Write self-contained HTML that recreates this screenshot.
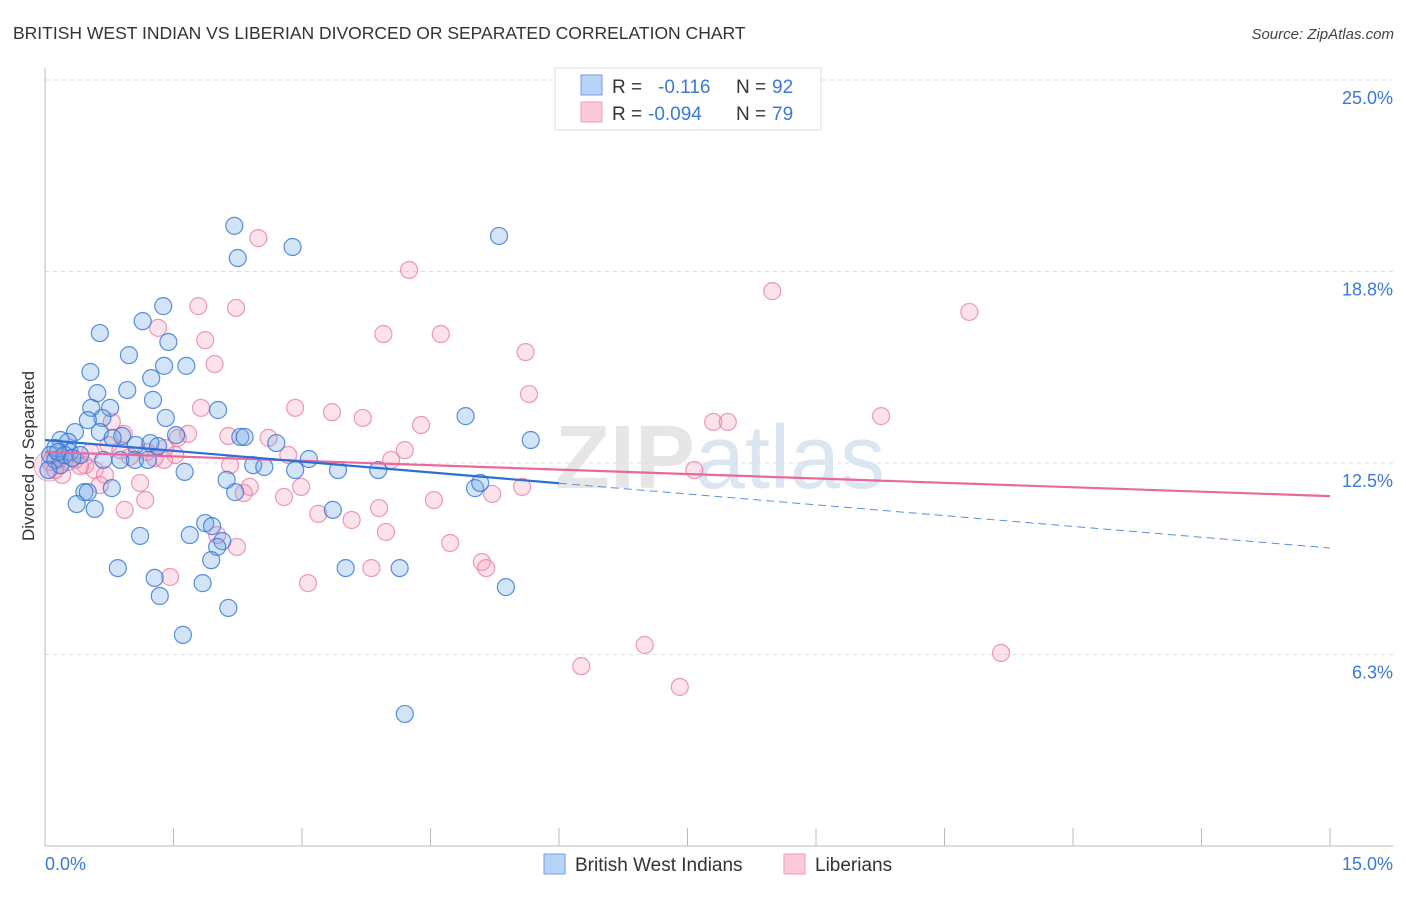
<!DOCTYPE html>
<html><head><meta charset="utf-8"><style>
body{margin:0;background:#fff;font-family:"Liberation Sans",sans-serif;}
svg text{font-family:"Liberation Sans",sans-serif;}
</style></head><body>
<svg id="chart" width="1406" height="892" viewBox="0 0 1406 892" xmlns="http://www.w3.org/2000/svg">
<text x="13" y="39" font-size="17.5" fill="#333">BRITISH WEST INDIAN VS LIBERIAN DIVORCED OR SEPARATED CORRELATION CHART</text>
<text x="1394" y="39" font-size="15" fill="#444" text-anchor="end" font-style="italic">Source: ZipAtlas.com</text>
<text x="720" y="488" font-size="90" fill="#e6e6e6" text-anchor="middle" font-family="Liberation Serif" font-weight="bold">ZIP<tspan fill="#dce6f3" font-family="Liberation Sans" font-weight="normal">atlas</tspan></text>
<g id="grid"></g>
<g id="axes"></g>
<g id="pts"></g>
<g id="trends"></g>
<text transform="translate(34,456) rotate(-90)" font-size="17" fill="#333" text-anchor="middle">Divorced or Separated</text>
<g>
<rect x="555" y="68" width="266" height="62" fill="#fff" stroke="#ddd"/>
<rect x="581" y="75" width="21" height="20" fill="#b8d3f5" stroke="#6ea0e6"/>
<rect x="581" y="102" width="21" height="20" fill="#fcc9da" stroke="#f09ab8"/>
<text x="612" y="93" font-size="19" fill="#333">R =</text>
<text x="658" y="93" font-size="19" fill="#3b78d8">-0.116</text>
<text x="736" y="93" font-size="19" fill="#333">N =</text>
<text x="772" y="93" font-size="19" fill="#3b78d8">92</text>
<text x="612" y="120" font-size="19" fill="#333">R =</text>
<text x="648" y="120" font-size="19" fill="#3b78d8">-0.094</text>
<text x="736" y="120" font-size="19" fill="#333">N =</text>
<text x="772" y="120" font-size="19" fill="#3b78d8">79</text>
</g>
<g>
<rect x="544" y="854" width="21" height="20" fill="#b8d3f5" stroke="#6ea0e6"/>
<text x="575" y="871" font-size="19" fill="#333">British West Indians</text>
<rect x="784" y="854" width="21" height="20" fill="#fcc9da" stroke="#f09ab8"/>
<text x="815" y="871" font-size="19" fill="#333">Liberians</text>
</g>
</svg>
<script>
const yTicks=[25.0,18.8,12.5,6.3];
const yTickVals=[25,18.75,12.5,6.25];
const xTickLabels=["0.0%","15.0%"];
const blueX=[2.21,2.89,5.30,2.25,1.38,1.14,0.64,1.44,0.98,1.39,1.65,0.53,1.24,0.96,0.61,1.26,0.76,0.54,2.02,1.41,4.91,0.67,0.50,5.67,0.35,0.64,0.90,0.79,1.06,1.53,0.18,0.27,0.12,0.29,0.41,1.23,1.32,2.28,2.33,2.70,3.08,1.63,2.12,2.43,2.56,2.92,3.42,3.89,5.02,5.08,0.68,0.88,1.05,1.20,2.22,0.78,0.46,0.50,0.37,0.58,3.36,1.87,1.95,1.69,1.11,2.07,2.01,1.94,0.85,1.28,3.51,4.14,1.84,5.38,1.34,2.14,1.61,4.20,0.06,0.12,0.18,0.23,0.04,0.15,0.32];
const blueY=[20.24,19.55,19.91,19.19,17.62,17.13,16.74,16.45,16.02,15.67,15.67,15.47,15.27,14.88,14.78,14.56,14.30,14.30,14.23,13.97,14.03,13.97,13.90,13.25,13.51,13.51,13.38,13.32,13.09,13.41,13.25,13.19,12.99,12.86,12.76,13.15,13.05,13.35,13.35,13.15,12.63,12.21,11.95,12.43,12.37,12.27,12.27,12.27,11.68,11.85,12.60,12.60,12.60,12.60,11.55,11.68,11.55,11.55,11.16,11.00,10.97,10.54,10.44,10.15,10.12,9.95,9.76,9.33,9.07,8.75,9.07,9.07,8.58,8.45,8.16,7.77,6.89,4.31,12.76,12.60,12.43,12.76,12.27,12.86,12.66];
const pinkX=[2.49,4.25,8.49,10.79,1.79,2.23,3.95,4.62,1.32,1.87,5.61,1.98,5.65,9.76,2.92,3.35,1.82,3.71,4.39,7.80,7.97,2.14,2.61,1.67,0.78,0.92,1.55,4.20,4.04,2.84,1.52,1.39,0.99,1.19,7.58,0.47,0.58,0.70,1.11,0.64,2.99,2.39,2.32,2.79,5.22,5.57,4.54,3.90,3.19,3.58,0.93,1.17,3.98,2.01,2.24,4.73,5.10,5.15,3.07,1.46,3.81,6.26,7.00,7.41,11.16,0.06,0.12,0.18,0.27,0.35,0.41,0.20,0.53,0.74,0.88,1.28,1.40,2.16];
const pinkY=[19.84,18.80,18.11,17.43,17.62,17.56,16.71,16.71,16.91,16.51,16.12,15.73,14.75,14.03,14.30,14.16,14.30,13.97,13.74,13.84,13.84,13.38,13.32,13.45,13.84,13.45,13.32,12.92,12.60,12.76,12.76,12.60,12.70,12.86,12.27,12.43,12.27,12.11,11.85,11.78,11.72,11.72,11.52,11.39,11.49,11.72,11.29,11.03,10.84,10.64,10.97,11.29,10.25,10.15,9.76,9.89,9.27,9.07,8.58,8.78,9.07,5.87,6.56,5.19,6.30,12.53,12.27,12.66,12.53,12.60,12.40,12.11,12.86,13.09,12.92,12.66,12.99,12.43];
const blueTrend=[13.25,-0.235];
const pinkTrend=[12.86,-0.096];
const blueSolidEnd=6.0;

const NS="http://www.w3.org/2000/svg";
const X0=45,X1=1330,Y0=846,Y1=80;
const sx=v=>X0+(v/15)*(X1-X0);
const sy=v=>Y0-(v/25)*(Y0-Y1);
function mk(tag,attrs,parent){const e=document.createElementNS(NS,tag);for(const k in attrs)e.setAttribute(k,attrs[k]);parent.appendChild(e);return e;}
const grid=document.getElementById('grid'),axes=document.getElementById('axes'),pts=document.getElementById('pts'),tr=document.getElementById('trends');
yTickVals.forEach((v,i)=>{
  const l=mk('line',{x1:X0,x2:1393,y1:sy(v),y2:sy(v),stroke:'#ddd','stroke-dasharray':'4,4'},grid);
  
  
  const t=mk('text',{x:1393,y:sy(v)+24,'font-size':18,fill:'#3b78d8','text-anchor':'end'},grid);
  t.textContent=yTicks[i].toFixed(1)+'%';
  
  
});
const la=mk('line',{x1:X0,x2:X0,y1:68,y2:Y0,stroke:'#bbb'},axes);


const ba=mk('line',{x1:X0,x2:1393,y1:Y0,y2:Y0,stroke:'#bbb'},axes);


for(let i=0;i<=10;i++){
  const tk=mk('line',{x1:sx(i*1.5),x2:sx(i*1.5),y1:828,y2:Y0,stroke:'#bbb'},axes);
  
  
}
const xl0=mk('text',{x:45,y:870,'font-size':18,fill:'#3b78d8'},axes);xl0.textContent=xTickLabels[0];


const xl1=mk('text',{x:1393,y:870,'font-size':18,fill:'#3b78d8','text-anchor':'end'},axes);xl1.textContent=xTickLabels[1];


// big overlapped bubbles near origin
const bb=mk('circle',{cx:sx(0.05),cy:sy(12.4),r:15,fill:'rgba(240,150,180,0.25)',stroke:'rgba(232,120,160,0.6)'},pts);


pinkX.forEach((v,i)=>{
  const c=mk('circle',{cx:sx(v),cy:sy(pinkY[i]),r:8.5,fill:'rgba(246,160,190,0.3)',stroke:'rgba(232,120,160,0.75)','stroke-width':1.2},pts);
  
  
});
blueX.forEach((v,i)=>{
  const c=mk('circle',{cx:sx(v),cy:sy(blueY[i]),r:8.5,fill:'rgba(110,165,230,0.3)',stroke:'rgba(50,115,215,0.8)','stroke-width':1.2},pts);
  
  
});
const bt=v=>blueTrend[0]+blueTrend[1]*v, pt=v=>pinkTrend[0]+pinkTrend[1]*v;
const p1=mk('line',{x1:sx(0),y1:sy(pt(0)),x2:sx(15),y2:sy(pt(15)),stroke:'#e8699a','stroke-width':2.2},tr);


const b1=mk('line',{x1:sx(0),y1:sy(bt(0)),x2:sx(blueSolidEnd),y2:sy(bt(blueSolidEnd)),stroke:'#2a6fd6','stroke-width':2.2},tr);


const b2=mk('line',{x1:sx(blueSolidEnd),y1:sy(bt(blueSolidEnd)),x2:sx(15),y2:sy(bt(15)),stroke:'#5b8fdc','stroke-width':1,'stroke-dasharray':'8,5'},tr);


</script>
</body></html>
